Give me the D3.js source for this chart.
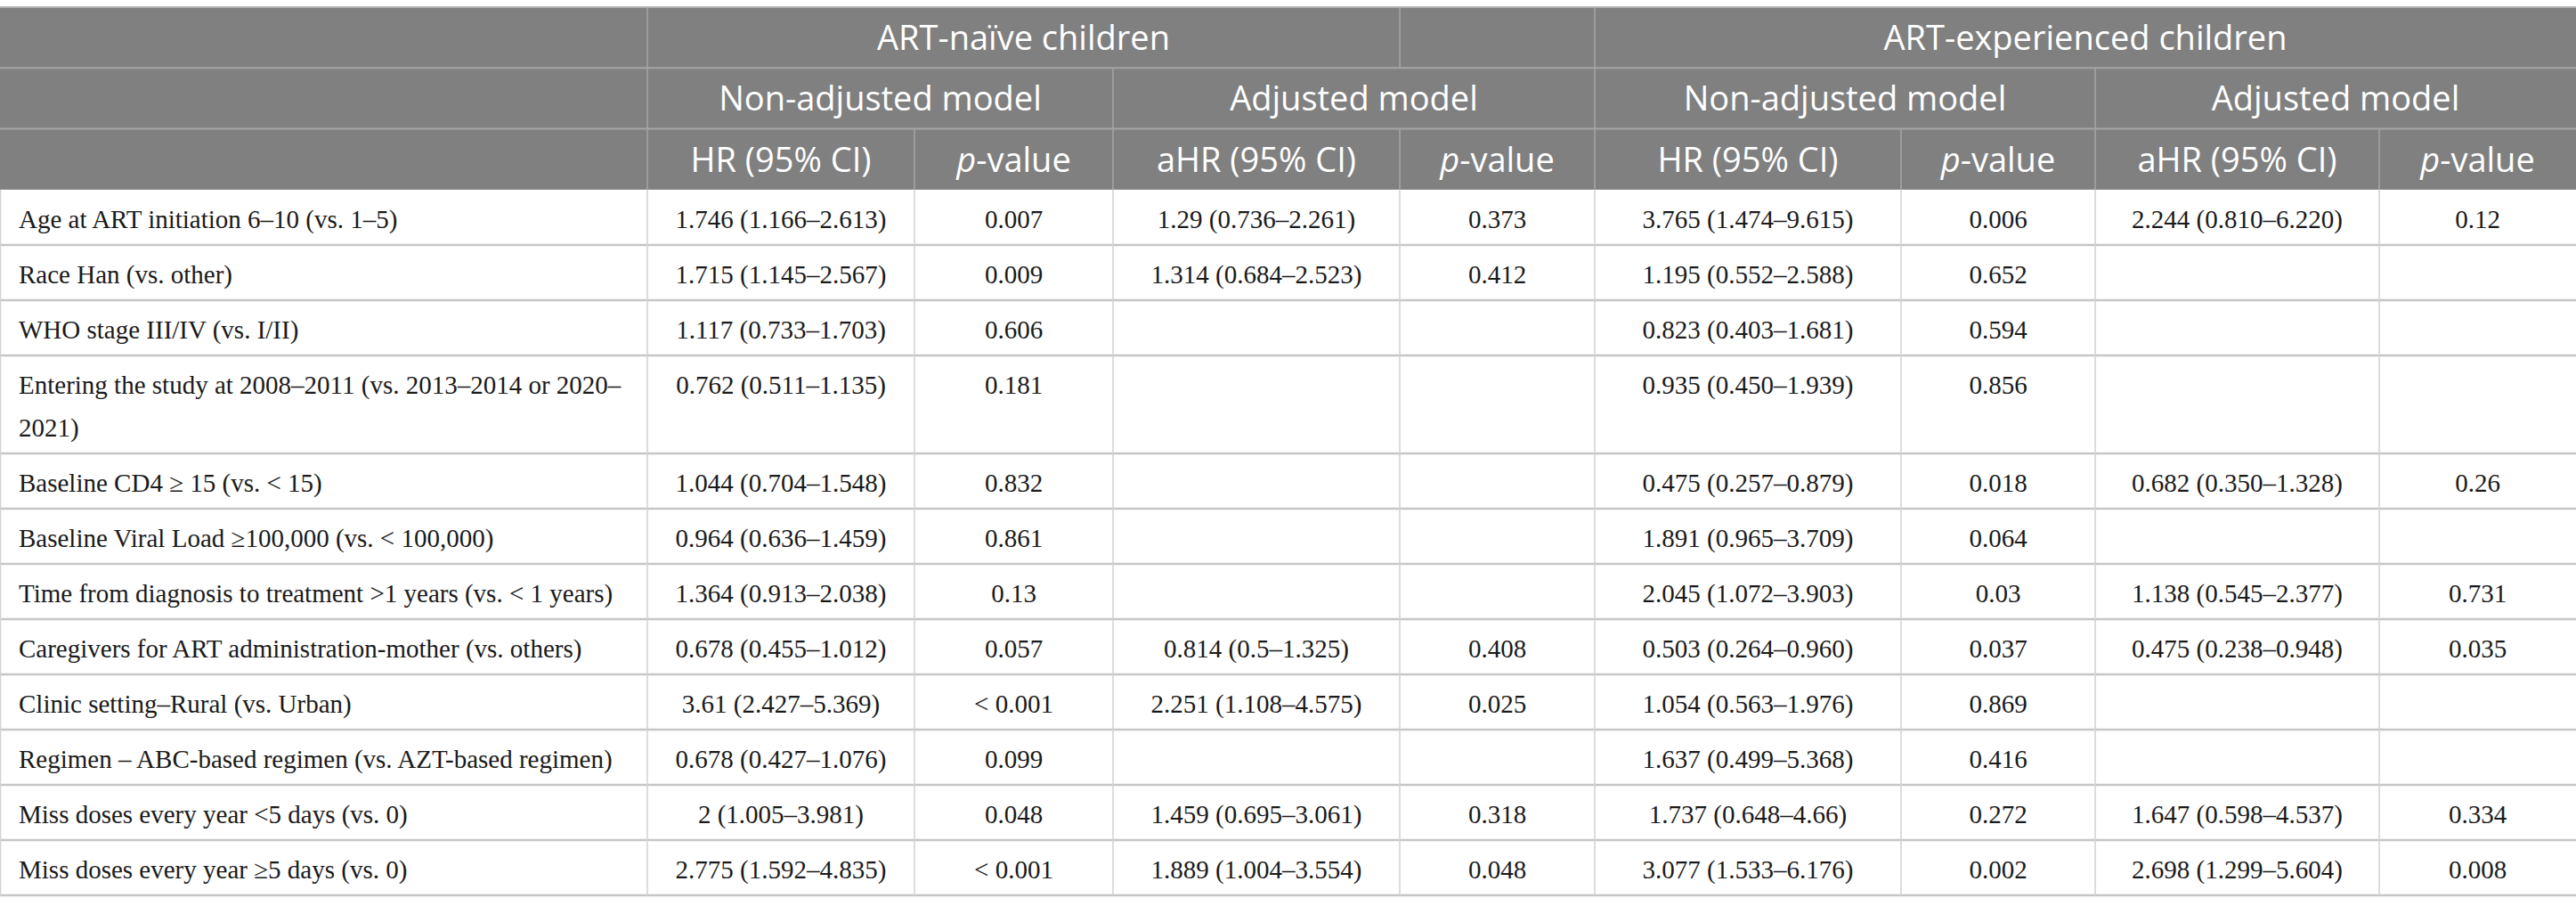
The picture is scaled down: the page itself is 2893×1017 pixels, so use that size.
<!DOCTYPE html>
<html>
<head>
<meta charset="utf-8">
<script src="https://cdn.jsdelivr.net/npm/d3@7"></script>
<style>
  html, body { margin: 0; padding: 0; background: #fff; }
  svg { display: block; }
</style>
</head>
<body>
<svg id="tbl"></svg>
<script>
// --- table content ---
const groups = ['ART-naïve children', '', 'ART-experienced children'];
const models = ['Non-adjusted model', 'Adjusted model', 'Non-adjusted model', 'Adjusted model'];
const statHeads = ['HR (95% CI)', 'p-value', 'aHR (95% CI)', 'p-value', 'HR (95% CI)', 'p-value', 'aHR (95% CI)', 'p-value'];

const rowLabels = [
  'Age at ART initiation 6–10 (vs. 1–5)',
  'Race Han (vs. other)',
  'WHO stage III/IV (vs. I/II)',
  'Entering the study at 2008–2011 (vs. 2013–2014 or 2020–\n2021)',
  'Baseline CD4 ≥ 15 (vs. < 15)',
  'Baseline Viral Load ≥100,000 (vs. < 100,000)',
  'Time from diagnosis to treatment >1 years (vs. < 1 years)',
  'Caregivers for ART administration-mother (vs. others)',
  'Clinic setting–Rural (vs. Urban)',
  'Regimen – ABC-based regimen (vs. AZT-based regimen)',
  'Miss doses every year <5 days (vs. 0)',
  'Miss doses every year ≥5 days (vs. 0)'
];

const naiveHR = ['1.746 (1.166–2.613)', '1.715 (1.145–2.567)', '1.117 (0.733–1.703)', '0.762 (0.511–1.135)',
  '1.044 (0.704–1.548)', '0.964 (0.636–1.459)', '1.364 (0.913–2.038)', '0.678 (0.455–1.012)',
  '3.61 (2.427–5.369)', '0.678 (0.427–1.076)', '2 (1.005–3.981)', '2.775 (1.592–4.835)'];
const naiveP = ['0.007', '0.009', '0.606', '0.181', '0.832', '0.861', '0.13', '0.057', '< 0.001', '0.099', '0.048', '< 0.001'];
const naiveAHR = ['1.29 (0.736–2.261)', '1.314 (0.684–2.523)', '', '', '', '', '', '0.814 (0.5–1.325)',
  '2.251 (1.108–4.575)', '', '1.459 (0.695–3.061)', '1.889 (1.004–3.554)'];
const naiveAP = ['0.373', '0.412', '', '', '', '', '', '0.408', '0.025', '', '0.318', '0.048'];

const expHR = ['3.765 (1.474–9.615)', '1.195 (0.552–2.588)', '0.823 (0.403–1.681)', '0.935 (0.450–1.939)',
  '0.475 (0.257–0.879)', '1.891 (0.965–3.709)', '2.045 (1.072–3.903)', '0.503 (0.264–0.960)',
  '1.054 (0.563–1.976)', '1.637 (0.499–5.368)', '1.737 (0.648–4.66)', '3.077 (1.533–6.176)'];
const expP = ['0.006', '0.652', '0.594', '0.856', '0.018', '0.064', '0.03', '0.037', '0.869', '0.416', '0.272', '0.002'];
const expAHR = ['2.244 (0.810–6.220)', '', '', '', '0.682 (0.350–1.328)', '', '1.138 (0.545–2.377)',
  '0.475 (0.238–0.948)', '', '', '1.647 (0.598–4.537)', '2.698 (1.299–5.604)'];
const expAP = ['0.12', '', '', '', '0.26', '', '0.731', '0.035', '', '', '0.334', '0.008'];

// --- layout ---
const W = 2893, H = 1017;
const colWidths = [727, 300, 223, 322, 219, 344, 218, 319, 221];
const TOP = 8;
const HEAD_H = 68.3;
const ROW_H = 62;
const LINE_H = 48;

const HEAD_BG = '#808080';
const HEAD_LINE = '#a6a6a6';
const ROW_LINE = '#c6c6c6';
const COL_LINE = '#d2d2d2';
const SANS = '"Open Sans", "Noto Sans", sans-serif';
const SERIF = '"Liberation Serif", "DejaVu Serif", serif';
const HEAD_FS = 38;
const BODY_FS = 29;

const valueCols = [naiveHR, naiveP, naiveAHR, naiveAP, expHR, expP, expAHR, expAP];

// column edges via cumulative widths
const edges = [0];
colWidths.forEach(w => edges.push(edges[edges.length - 1] + w));
const colX = d3.scaleOrdinal(d3.range(edges.length), edges);
const colMid = (a, b) => (colX(a) + colX(b)) / 2;

// row tops
const lineCounts = rowLabels.map(l => l.split('\n').length);
const rowTops = [];
let yAcc = TOP + 3 * HEAD_H;
lineCounts.forEach(n => { rowTops.push(yAcc); yAcc += ROW_H + (n - 1) * LINE_H; });
const tableBottom = yAcc;
const rowY = d3.scaleOrdinal(d3.range(rowLabels.length), rowTops);
const headY = d3.scaleLinear().domain([0, 3]).range([TOP, TOP + 3 * HEAD_H]);

const svg = d3.select('#tbl').attr('width', W).attr('height', H).attr('viewBox', `0 0 ${W} ${H}`);

// header background
svg.append('rect')
  .attr('x', 0).attr('y', headY(0))
  .attr('width', W).attr('height', headY(3) - headY(0))
  .attr('fill', HEAD_BG);

// header cells: [row, startCol, endCol, text]
const headCells = [];
headCells.push([0, 0, 1, '']);
headCells.push([0, 1, 4, groups[0]]);
headCells.push([0, 4, 5, groups[1]]);
headCells.push([0, 5, 9, groups[2]]);
headCells.push([1, 0, 1, '']);
models.forEach((m, i) => headCells.push([1, 1 + i * 2, 3 + i * 2, m]));
headCells.push([2, 0, 1, '']);
statHeads.forEach((s, i) => headCells.push([2, 1 + i, 2 + i, s]));

const hg = svg.append('g').attr('class', 'head');

// header grid lines
hg.selectAll('line.hv')
  .data(headCells.filter(c => c[1] > 0))
  .enter().append('line')
  .attr('class', 'hv')
  .attr('x1', d => colX(d[1])).attr('x2', d => colX(d[1]))
  .attr('y1', d => headY(d[0])).attr('y2', d => headY(d[0] + 1))
  .attr('stroke', HEAD_LINE).attr('stroke-width', 1.5);

hg.selectAll('line.hh')
  .data([1, 2])
  .enter().append('line')
  .attr('class', 'hh')
  .attr('x1', 0).attr('x2', W)
  .attr('y1', d => headY(d)).attr('y2', d => headY(d))
  .attr('stroke', HEAD_LINE).attr('stroke-width', 2);

// header text
const ht = hg.selectAll('text')
  .data(headCells.filter(c => c[3]))
  .enter().append('text')
  .attr('x', d => colMid(d[1], d[2]))
  .attr('y', d => headY(d[0]) + 48)
  .attr('text-anchor', 'middle')
  .attr('fill', '#fff')
  .attr('font-family', SANS)
  .attr('font-size', HEAD_FS);

ht.each(function (d) {
  const t = d3.select(this);
  if (d[3] === 'p-value') {
    t.append('tspan').attr('font-style', 'italic').text('p');
    t.append('tspan').text('-value');
  } else {
    t.text(d[3]);
  }
});

// body
const bg = svg.append('g').attr('class', 'body');

// row lines
bg.selectAll('line.rh')
  .data(rowTops.slice(1).concat([tableBottom]))
  .enter().append('line')
  .attr('class', 'rh')
  .attr('x1', 0).attr('x2', W)
  .attr('y1', d => d).attr('y2', d => d)
  .attr('stroke', ROW_LINE).attr('stroke-width', 2.5);

// column lines
bg.selectAll('line.cv')
  .data(d3.range(0, colWidths.length))
  .enter().append('line')
  .attr('class', 'cv')
  .attr('x1', d => colX(d) + (d === 0 ? 0.5 : 0)).attr('x2', d => colX(d) + (d === 0 ? 0.5 : 0))
  .attr('y1', headY(3)).attr('y2', tableBottom)
  .attr('stroke', COL_LINE).attr('stroke-width', 1.5);

// top border
svg.append('line')
  .attr('x1', 0).attr('x2', W)
  .attr('y1', headY(0)).attr('y2', headY(0))
  .attr('stroke', '#b4b4b4').attr('stroke-width', 2);

// label column
const labels = bg.selectAll('text.lbl')
  .data(rowLabels)
  .enter().append('text')
  .attr('class', 'lbl')
  .attr('x', colX(0) + 21)
  .attr('y', (d, i) => rowY(i) + 43)
  .attr('fill', '#1a1a1a')
  .attr('font-family', SERIF)
  .attr('font-size', BODY_FS);

labels.each(function (d) {
  const t = d3.select(this);
  d.split('\n').forEach((line, k) => {
    t.append('tspan')
      .attr('x', colX(0) + 21)
      .attr('dy', k === 0 ? 0 : LINE_H)
      .text(line);
  });
});

// value columns
valueCols.forEach((vals, ci) => {
  bg.append('g').selectAll('text')
    .data(vals)
    .enter().append('text')
    .attr('x', colMid(ci + 1, ci + 2))
    .attr('y', (d, i) => rowY(i) + 43)
    .attr('text-anchor', 'middle')
    .attr('fill', '#1a1a1a')
    .attr('font-family', SERIF)
    .attr('font-size', BODY_FS)
    .text(d => d);
});
</script>
</body>
</html>
